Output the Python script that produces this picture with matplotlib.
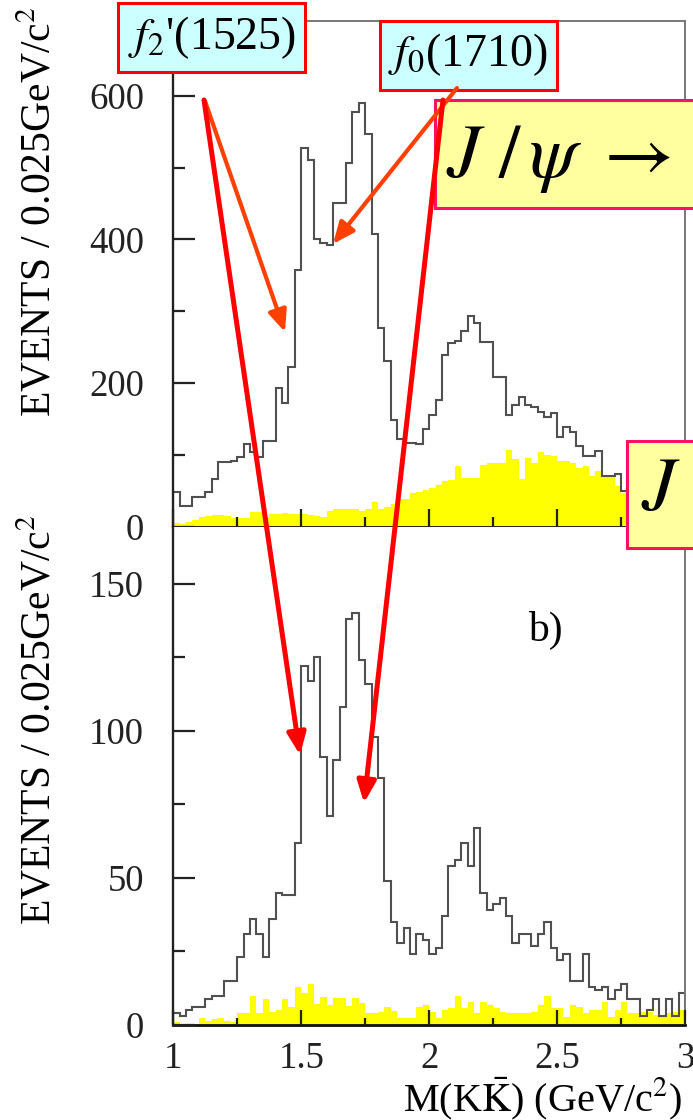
import numpy as np
import matplotlib
matplotlib.use("Agg")
import matplotlib.pyplot as plt
from matplotlib.patches import Rectangle, FancyArrowPatch, ArrowStyle
from matplotlib.ticker import FixedLocator, FixedFormatter

plt.rcParams['font.family'] = ['serif']
plt.rcParams['font.serif'] = ['Liberation Serif', 'DejaVu Serif']
plt.rcParams['mathtext.fontset'] = 'stix'

# ---------------- data ----------------
mass_lo, mass_hi, bin_width = 1.0, 3.0, 0.025

top_counts = [48, 29, 29, 41, 41, 48, 66, 90, 90, 92,
              97, 115, 104, 97, 120, 120, 193, 172, 223, 358,
              527, 510, 400, 395, 392, 450, 450, 506, 578, 590,
              546, 408, 277, 230, 148, 122, 116, 116, 115, 136,
              155, 176, 239, 256, 259, 272, 293, 284, 257, 257,
              209, 209, 155, 169, 181, 169, 167, 160, 153, 158,
              125, 139, 132, 113, 99, 99, 106, 71, 71, 73,
              50, 52, 48, 45, 40, 38, 35, 30, 28, 25]

top_bkg = [5, 4, 6, 10, 13, 15, 16, 16, 15, 12,
           12, 12, 20, 20, 14, 17, 17, 19, 17, 18,
           17, 16, 15, 13, 22, 24, 24, 25, 25, 22,
           24, 35, 24, 28, 31, 38, 39, 47, 48, 51,
           54, 58, 63, 65, 84, 68, 68, 68, 86, 89,
           89, 89, 107, 94, 66, 96, 89, 104, 100, 98,
           91, 91, 89, 82, 84, 70, 77, 70, 70, 56,
           47, 45, 40, 36, 30, 25, 20, 15, 10, 6]

bot_counts = [4, 3, 5, 6, 6, 9, 10, 10, 15, 15,
              23, 31, 36, 31, 23, 36, 45, 44, 44, 62,
              122, 117, 125, 91, 71, 90, 108, 138, 140, 124,
              116, 98, 84, 49, 35, 28, 33, 24, 31, 29,
              24, 26, 37, 54, 56, 62, 54, 67, 45, 39,
              41, 43, 37, 28, 31, 31, 27, 31, 35, 26,
              22, 24, 15, 15, 24, 13, 12, 13, 9, 12,
              14, 9, 9, 3, 5, 9, 3, 9, 3, 11]

bot_bkg = [1, 0, 0, 0.5, 2.5, 1.5, 2, 2.3, 1.2, 1,
           4, 4, 10, 4, 9, 4.5, 5, 9, 6, 13,
           11, 14, 7, 9.6, 6.8, 9.3, 9.3, 6.6, 9.3, 7.4,
           4, 4, 4.5, 6, 4.8, 2.5, 2.5, 2.5, 6, 6.8,
           4.5, 2.3, 5, 5.7, 10, 5.7, 7.9, 4, 7.9, 6.8,
           5.7, 4.5, 4, 4, 4, 4, 4.5, 6.8, 10, 5.7,
           5.7, 2.8, 6.8, 6.2, 4, 5, 5, 7.9, 2.8, 5,
           7.9, 4, 4, 4.5, 4.5, 3.4, 3.4, 4, 4.5, 5]

x_major = [1, 1.5, 2, 2.5, 3]
x_major_labels = ['1', '1.5', '2', '2.5', '3']
x_minor = [1.25, 1.75, 2.25, 2.75]
top_yticks = [0, 200, 400, 600]
top_yminor = [100, 300, 500]
bot_yticks = [0, 50, 100, 150]
bot_yminor = [25, 75, 125]

ylabel_text = "EVENTS / 0.025GeV/c$^2$"
xlabel_text = r"M(K$\bar{\mathrm{K}}$) (GeV/c$^2$)"
label_f2 = "$f_2$'(1525)"
label_f0 = "$f_0$(1710)"
label_title = r"$J\ /\,\psi\ \rightarrow\ \gamma\, K\bar{K}$"

# ---------------- layout ----------------
W, H = 693, 1120
fig = plt.figure(figsize=(W / 100, H / 100), dpi=100)


def fx(x):
    return x / W


def fy(y):
    return 1 - y / H


L, R = 173.3, 685
Y_TOP, Y_MID, Y_BOT = 21, 526.7, 1025
ax1 = fig.add_axes([fx(L), fy(Y_MID), fx(R) - fx(L), fy(Y_TOP) - fy(Y_MID)])
ax2 = fig.add_axes([fx(L), fy(Y_BOT), fx(R) - fx(L), fy(Y_MID) - fy(Y_BOT)])

nbins = len(top_counts)
edges = mass_lo + bin_width * np.arange(nbins + 1)

for ax, counts, bkg in ((ax1, top_counts, top_bkg), (ax2, bot_counts, bot_bkg)):
    ax.stairs(bkg, edges, fill=True, color='#FFFF00', lw=0, zorder=1)
    ax.stairs(counts, edges, color='#505050', lw=1.5, zorder=2)
    ax.set_xlim(mass_lo, mass_hi)
    ax.set_axisbelow(False)
    ax.xaxis.set_major_locator(FixedLocator(x_major))
    ax.xaxis.set_major_formatter(FixedFormatter(x_major_labels))
    ax.xaxis.set_minor_locator(FixedLocator(x_minor))
    ax.tick_params(axis='both', which='both', direction='in', top=False,
                   right=False, colors='#222222', width=1.6)
    ax.tick_params(axis='y', which='major', length=15.6, pad=21, labelsize=26.5)
    ax.tick_params(axis='y', which='minor', length=8.4)
    ax.tick_params(axis='x', which='major', pad=12, labelsize=26.5)
    ax.spines['left'].set_color('#222222')
    ax.spines['left'].set_linewidth(1.7)
    ax.spines['bottom'].set_color('#111111')
    ax.spines['bottom'].set_linewidth(2.0)
    for s in ('top', 'right'):
        ax.spines[s].set_color('#777777')
        ax.spines[s].set_linewidth(1.4)

ax1.set_ylim(0, 704)
ax1.yaxis.set_major_locator(FixedLocator(top_yticks))
ax1.yaxis.set_minor_locator(FixedLocator(top_yminor))
ax1.tick_params(axis='x', which='major', length=13, labelbottom=False)
ax1.tick_params(axis='x', which='minor', length=7)

ax2.set_ylim(0, 169.3)
ax2.yaxis.set_major_locator(FixedLocator(bot_yticks))
ax2.yaxis.set_minor_locator(FixedLocator(bot_yminor))
ax2.tick_params(axis='x', which='major', length=10.5)
ax2.tick_params(axis='x', which='minor', length=5)
ax2.spines['top'].set_visible(False)

ax2.text(2.456, 134, 'b)', fontsize=30, ha='center', va='center')

fig.text(fx(40), fy(212), ylabel_text, rotation=90, ha='center', va='center', fontsize=30)
fig.text(fx(40), fy(720), ylabel_text, rotation=90, ha='center', va='center', fontsize=30)
fig.text(fx(682), fy(1111), xlabel_text, ha='right', va='baseline', fontsize=29)


# ---------------- annotation boxes ----------------
def box(x0, y0, x1, y1, fc, ec, lw=2.2):
    fig.add_artist(Rectangle((fx(x0), fy(y1)), fx(x1) - fx(x0), fy(y0) - fy(y1),
                             transform=fig.transFigure, fc=fc, ec=ec, lw=lw, zorder=5))


box(118, 3, 305, 72, '#CCFFFF', '#FF0000')
fig.text(fx(212), fy(38), label_f2, ha='center', va='center', fontsize=33, zorder=6)
box(380, 21, 557, 90, '#CCFFFF', '#FF0000')
fig.text(fx(468), fy(55), label_f0, ha='center', va='center', fontsize=33, zorder=6)

box(435, 100, 705, 208, '#FFFFA0', '#FF1060')
fig.text(fx(446), fy(178), label_title, ha='left', va='baseline', fontsize=55, zorder=6)
box(627, 441, 705, 548, '#FFFFA0', '#FF1060')
fig.text(fx(641), fy(511), label_title, ha='left', va='baseline', fontsize=55, zorder=6)


# ---------------- arrows ----------------
def arrow(p0, p1, color, lw):
    st = ArrowStyle('-|>', head_length=0.65, head_width=0.28)
    a = FancyArrowPatch((fx(p0[0]), fy(p0[1])), (fx(p1[0]), fy(p1[1])),
                        transform=fig.transFigure, arrowstyle=st, mutation_scale=20,
                        color=color, lw=lw, shrinkA=0, shrinkB=0, zorder=7)
    fig.add_artist(a)


arrow((205, 101), (285, 332), '#FF4000', 3.0)
arrow((204, 100), (300, 755), '#FF0000', 3.6)
arrow((457, 88), (333, 244), '#FF4000', 3.0)
arrow((443, 100), (364, 803), '#FF0000', 3.6)

fig.savefig('out.png', dpi=100)
